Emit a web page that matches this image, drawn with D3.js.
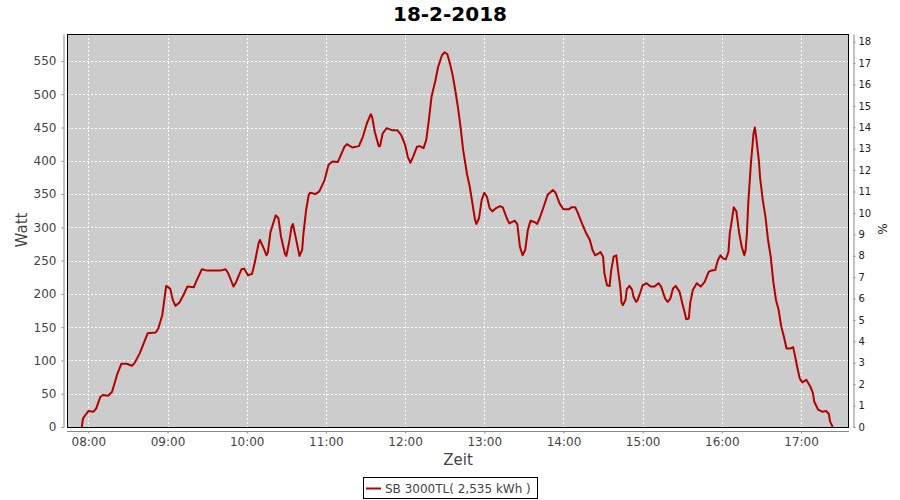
<!DOCTYPE html>
<html><head><meta charset="utf-8">
<script src="https://cdn.jsdelivr.net/npm/d3@7"></script>
<style>body{margin:0;background:#fff}svg{display:block}</style>
</head><body>
<script>
const title = "18-2-2018";
const seriesName = "SB 3000TL( 2,535 kWh )";
const times = ["07:55","07:56","08:00","08:04","08:06","08:09","08:11","08:15","08:18","08:22","08:25","08:29","08:33","08:35","08:39","08:43","08:45","08:51","08:53","08:56","08:59","09:02","09:04","09:06","09:09","09:12","09:15","09:20","09:22","09:26","09:30","09:40","09:44","09:46","09:49","09:50","09:52","09:56","09:58","10:01","10:04","10:06","10:09","10:10","10:13","10:15","10:16","10:18","10:22","10:24","10:26","10:29","10:30","10:32","10:34","10:35","10:37","10:40","10:42","10:43","10:45","10:47","10:48","10:52","10:55","10:59","11:02","11:05","11:09","11:14","11:16","11:20","11:25","11:28","11:31","11:34","11:35","11:37","11:40","11:41","11:43","11:46","11:50","11:54","11:57","12:00","12:02","12:04","12:06","12:09","12:11","12:14","12:16","12:18","12:20","12:23","12:25","12:28","12:30","12:32","12:34","12:36","12:38","12:40","12:42","12:44","12:47","12:49","12:51","12:53","12:54","12:56","12:58","13:00","13:02","13:04","13:06","13:09","13:12","13:14","13:17","13:19","13:23","13:25","13:27","13:29","13:31","13:33","13:35","13:38","13:40","13:42","13:45","13:48","13:52","13:54","13:57","14:00","14:04","14:06","14:09","14:11","14:14","14:17","14:20","14:22","14:24","14:26","14:28","14:30","14:31","14:33","14:35","14:36","14:38","14:40","14:41","14:43","14:44","14:45","14:47","14:48","14:50","14:52","14:53","14:55","14:56","14:58","15:00","15:03","15:06","15:09","15:12","15:14","15:17","15:19","15:21","15:23","15:25","15:28","15:30","15:32","15:33","15:35","15:36","15:38","15:41","15:44","15:47","15:50","15:52","15:55","15:57","15:59","16:01","16:03","16:05","16:06","16:08","16:09","16:11","16:13","16:15","16:17","16:18","16:19","16:20","16:22","16:24","16:25","16:26","16:28","16:29","16:31","16:33","16:35","16:37","16:39","16:41","16:43","16:45","16:47","16:49","16:52","16:54","16:55","16:57","16:59","17:01","17:04","17:07","17:09","17:10","17:13","17:16","17:19","17:21","17:22","17:24"];
const watts = [0,13,24,23,28,45,48,47,53,80,95,95,92,96,111,131,141,142,148,168,212,208,191,182,187,198,211,210,220,237,235,235,237,231,216,211,218,237,238,228,230,246,276,281,268,258,262,293,318,314,286,260,257,276,301,305,286,257,266,291,326,349,352,350,354,371,394,399,398,421,425,420,422,436,456,470,466,444,422,422,441,449,446,446,439,424,406,397,406,421,422,419,431,461,496,521,541,559,563,560,546,529,506,481,451,416,379,361,336,311,305,314,341,352,346,329,324,329,332,330,314,306,310,305,271,258,266,296,310,308,305,314,331,349,356,352,336,327,327,330,330,321,306,292,281,266,258,260,263,256,231,213,212,233,256,258,241,211,187,183,191,207,212,206,196,188,190,201,213,216,211,211,216,211,193,188,193,208,212,203,186,171,162,163,186,206,216,211,218,233,235,236,251,258,253,252,263,291,316,330,324,293,271,258,266,291,336,396,441,450,436,401,374,341,316,281,256,218,191,176,151,136,118,118,120,111,91,73,67,71,61,51,38,26,23,24,20,8,0];
const timeTicks = ["08:00","09:00","10:00","11:00","12:00","13:00","14:00","15:00","16:00","17:00"];
const wattTicks = [0,50,100,150,200,250,300,350,400,450,500,550];
const pctTicks = [0,1,2,3,4,5,6,7,8,9,10,11,12,13,14,15,16,17,18];

const W = 900, H = 500;
const m = {l:67, t:34, r:849, b:427};
const parse = d3.timeParse("%H:%M");
const data = times.map((t,i)=>({t:parse(t), v:watts[i]}));

const svg = d3.select("body").append("svg").attr("width",W).attr("height",H)
  .style("font-family","'DejaVu Sans', sans-serif");

const x = d3.scaleTime().domain([parse("07:43").getTime()+50000, parse("17:36").getTime()+20000].map(d=>new Date(d))).range([m.l, m.r]);
const y = d3.scaleLinear().domain([0, 590.5]).range([m.b, m.t]);
const y2 = d3.scaleLinear().domain([0, 18.36]).range([m.b, m.t]);

// plot background
svg.append("rect").attr("x",m.l).attr("y",m.t).attr("width",m.r-m.l).attr("height",m.b-m.t).attr("fill","#cccccc");

// grid
const grid = svg.append("g").attr("stroke","#fff").attr("stroke-width",1).attr("stroke-dasharray","2,2");
timeTicks.map(parse).forEach(t=>{
  const xx = Math.round(x(t))+0.5;
  grid.append("line").attr("x1",xx).attr("x2",xx).attr("y1",m.t).attr("y2",m.b);
});
wattTicks.forEach(v=>{
  if(v===0) return;
  const yy = Math.round(y(v))+0.5;
  grid.append("line").attr("x1",m.l).attr("x2",m.r).attr("y1",yy).attr("y2",yy);
});

// line
svg.append("path").datum(data)
  .attr("fill","none").attr("stroke","#b50000").attr("stroke-width",2).attr("stroke-linejoin","round")
  .attr("d", d3.line().x(d=>x(d.t)).y(d=>y(d.v)));

// plot border
svg.append("rect").attr("x",m.l+0.5).attr("y",m.t+0.5).attr("width",m.r-m.l-1).attr("height",m.b-m.t).attr("fill","none").attr("stroke","#000").attr("stroke-width",1);

// axes
function styleAxis(g, size){
  g.select(".domain").attr("stroke","#888");
  g.selectAll(".tick line").attr("stroke","#888");
  g.selectAll(".tick text").attr("fill","#444").style("font-size",size+"px").style("font-family","'DejaVu Sans', sans-serif");
}
const gx = svg.append("g").attr("transform",`translate(0,${m.b+4.5})`)
  .call(d3.axisBottom(x).tickValues(timeTicks.map(parse)).tickFormat(d3.timeFormat("%H:%M")).tickSizeInner(2).tickSizeOuter(0).tickPadding(4));
styleAxis(gx, 12);
gx.select(".domain").attr("d",`M${m.l},0H${m.r}`);

const gy = svg.append("g").attr("transform",`translate(${m.l-3.5},0)`)
  .call(d3.axisLeft(y).tickValues(wattTicks).tickSizeInner(2).tickSizeOuter(0).tickPadding(5));
styleAxis(gy, 12);

const gy2 = svg.append("g").attr("transform",`translate(${m.r+4.5},0)`)
  .call(d3.axisRight(y2).tickValues(pctTicks).tickSizeInner(2).tickSizeOuter(0).tickPadding(3));
styleAxis(gy2, 10);
gy2.selectAll(".tick text").attr("fill","#222");

// titles
svg.append("text").attr("x",450).attr("y",21).attr("text-anchor","middle")
  .style("font-size","20px").style("font-weight","bold").attr("fill","#000").text(title);
svg.append("text").attr("x",458).attr("y",465).attr("text-anchor","middle")
  .style("font-size","15px").attr("fill","#444").text("Zeit");
svg.append("text").attr("transform","translate(27,230) rotate(-90)").attr("text-anchor","middle")
  .style("font-size","15px").attr("fill","#444").text("Watt");
svg.append("text").attr("transform","translate(887,229) rotate(-90)").attr("text-anchor","middle")
  .style("font-size","12px").attr("fill","#222").text("%");

// legend
const lg = svg.append("g");
lg.append("rect").attr("x",363.5).attr("y",477.5).attr("width",174).attr("height",21).attr("fill","#fff").attr("stroke","#000");
lg.append("line").attr("x1",366).attr("x2",381).attr("y1",488.5).attr("y2",488.5).attr("stroke","#b50000").attr("stroke-width",2);
lg.append("text").attr("x",385).attr("y",493).style("font-size","12px").attr("fill","#444").text(seriesName);
</script>
</body></html>
